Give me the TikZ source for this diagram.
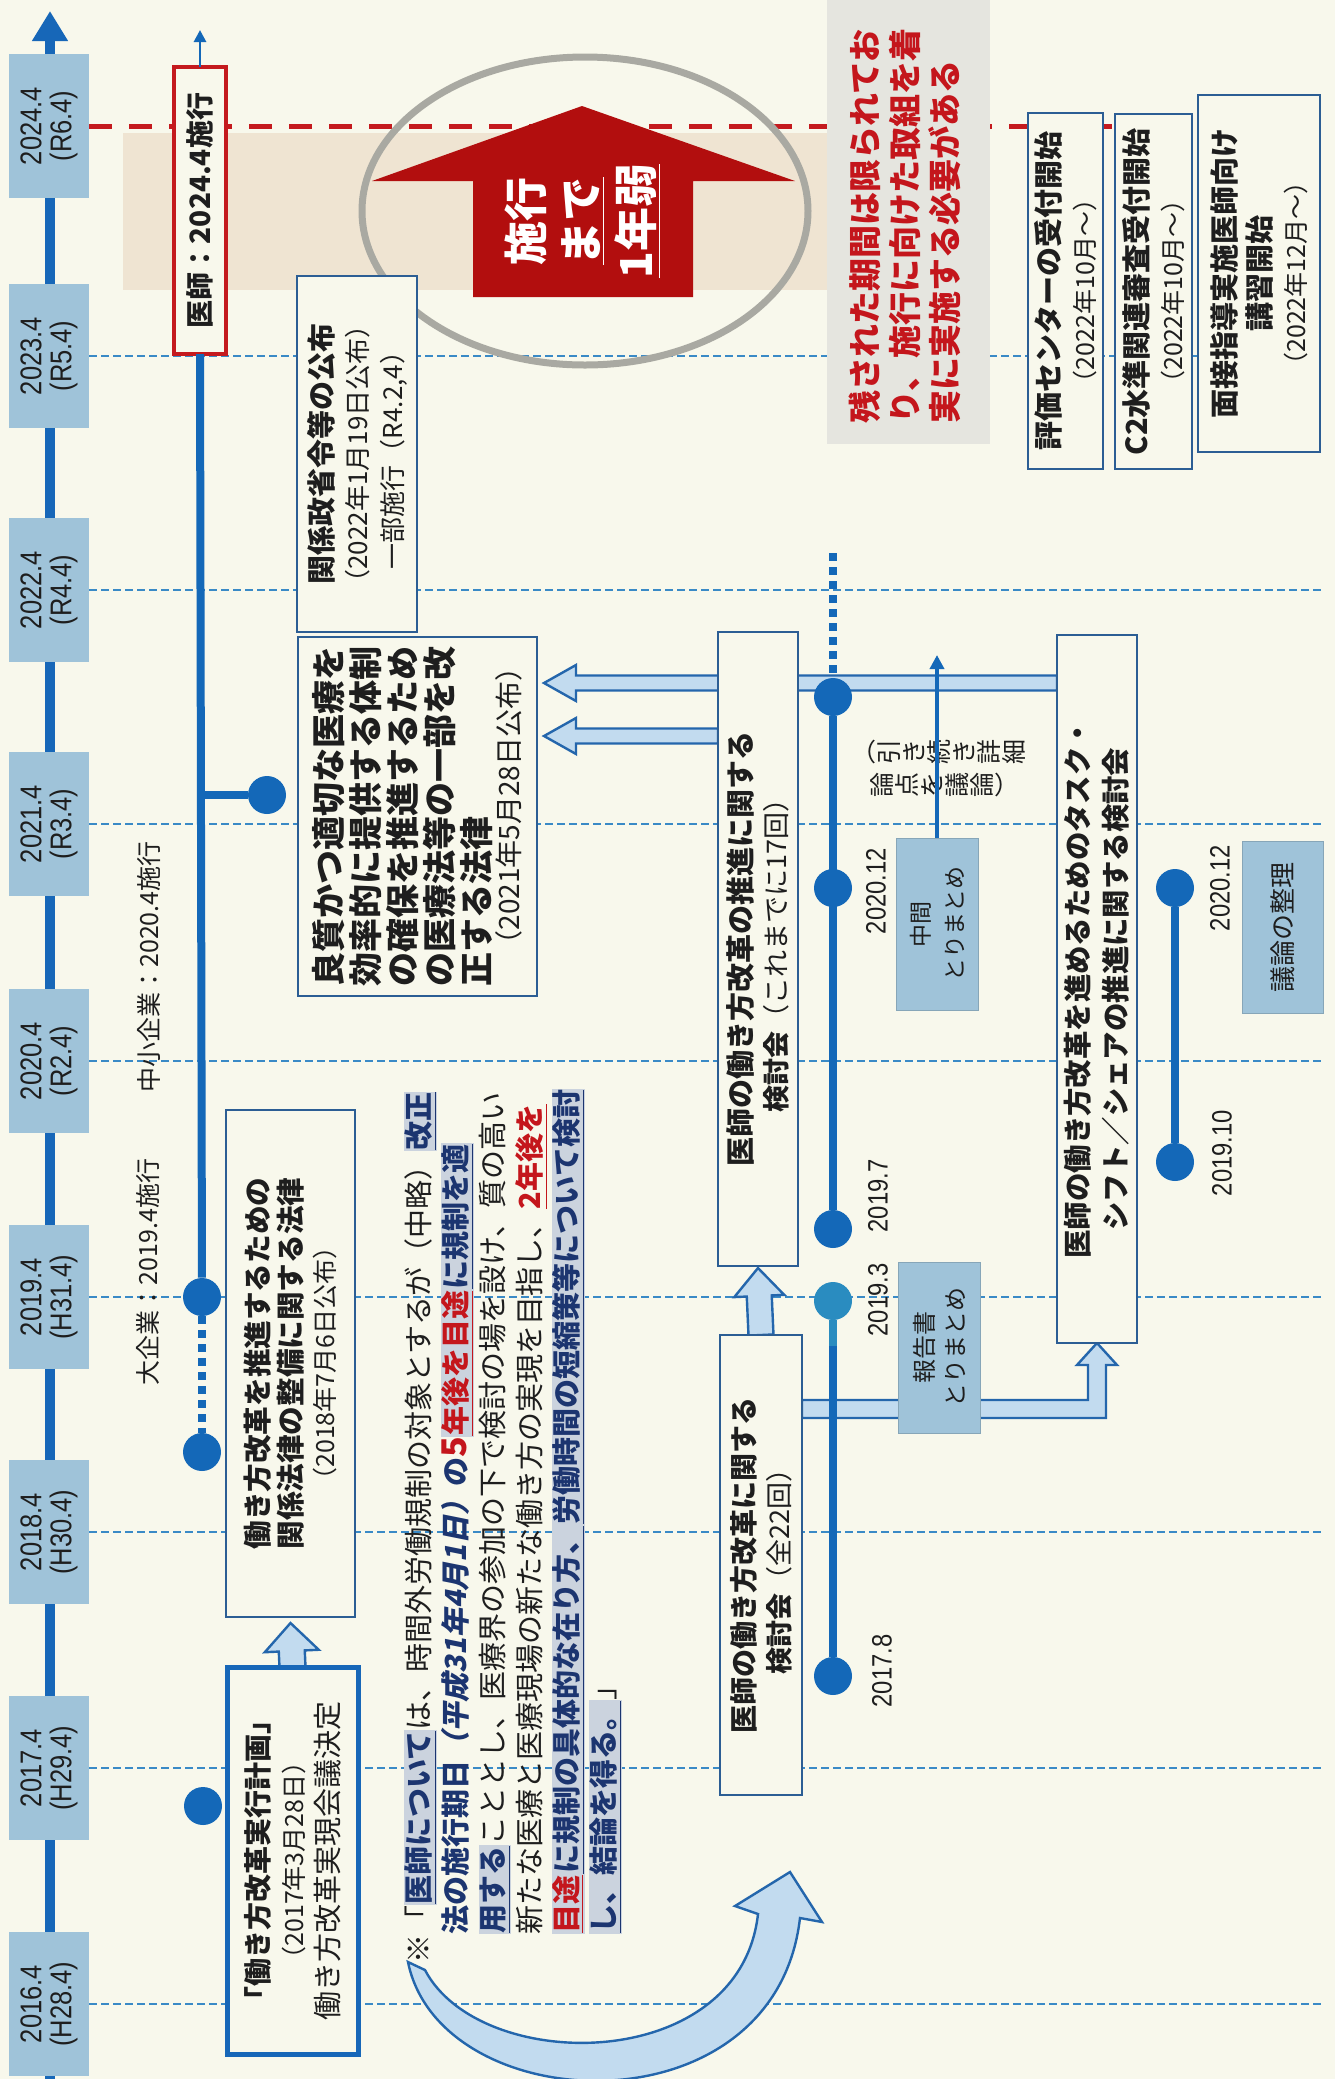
\documentclass[tikz,border=0pt]{standalone}
\usepackage{fontspec}
\setmainfont{Noto Sans CJK JP}
\newfontfamily\jpsl[FakeSlant=0.2]{Noto Sans CJK JP}
\newfontfamily\nrw[FakeStretch=0.85]{Liberation Sans}
\XeTeXlinebreaklocale "ja"
\XeTeXlinebreakskip=0pt plus 2pt
\usetikzlibrary{calc,arrows.meta}
\pgfdeclarelayer{bgl}
\pgfdeclarelayer{arr}
\pgfsetlayers{bgl,arr,main}
\definecolor{bg}{HTML}{F8F8EC}
\definecolor{yearblue}{HTML}{9FC3D9}
\definecolor{axisblue}{HTML}{1767B8}
\definecolor{dotblue}{HTML}{1468B8}
\definecolor{lightdot}{HTML}{2A8CC0}
\definecolor{boxblue}{HTML}{2C5E94}
\definecolor{lineblue}{HTML}{3A8AC6}
\definecolor{redline}{HTML}{C41A1E}
\definecolor{redarrow}{HTML}{B20E0E}
\definecolor{redtext}{HTML}{C4161C}
\definecolor{greybox}{HTML}{E5E5DF}
\definecolor{bandc}{HTML}{EFE4D2}
\definecolor{ellgrey}{HTML}{A9A9A2}
\definecolor{arrfill}{HTML}{C2DBEF}
\definecolor{arrline}{HTML}{2466AC}
\definecolor{txt}{HTML}{1E1E1E}
\definecolor{navy}{HTML}{1C3570}
\definecolor{hlgray}{HTML}{CBD3DE}
\newcommand\fs[2]{\fontsize{#1}{#2}\selectfont}
\newcommand\hlb[1]{{\setlength\fboxsep{0.4pt}\colorbox{hlgray}{\bfseries\color{navy}\underline{#1}}}}
\newcommand\hlr[1]{{\setlength\fboxsep{0.4pt}\colorbox{hlgray}{\bfseries\color{redtext}\underline{#1}}}}
\newcommand\rdb[1]{{\bfseries\color{redtext}\underline{#1}}}
\newcommand\nvb[1]{{\bfseries\color{navy}#1}}
\tikzset{
  rot/.style={rotate=90, inner sep=0pt, outer sep=0pt},
  yearbox/.style={rot, fill=yearblue, minimum width=72pt, minimum height=40pt, align=center, font=\nrw\fs{15}{15}, text=txt},
  wbox/.style={rot, draw=boxblue, line width=1.2pt, fill=bg, align=center, text=txt},
  bluebox/.style={rot, fill=yearblue, draw=yearblue!85!black, line width=0.4pt, align=center, text=txt},
  yearline/.style={lineblue, line width=0.9pt, dash pattern=on 4pt off 2pt},
  tl/.style={dotblue, line width=4pt},
  dotl/.style={dotblue, line width=4pt, dash pattern=on 4pt off 3pt},
  dot/.style={circle, fill=dotblue, inner sep=0pt, minimum size=19pt},
  datelbl/.style={rot, font=\nrw\fs{14}{14}, text=txt},
  hollow/.style={fill=arrfill, draw=arrline, line width=1.2pt, line join=miter},
  blockarrow/.style args={#1/#2/#3}{to path={let \p1=(\tikztostart), \p2=(\tikztotarget), \n1={atan2(\y2-\y1,\x2-\x1)}, \n2={veclen(\x2-\x1,\y2-\y1)} in
      ($(\p1)+(\n1+90:#1)$) -- ($(\p1)+(\n1:\n2-#3)+(\n1+90:#1)$) -- ($(\p1)+(\n1:\n2-#3)+(\n1+90:#2)$) -- (\p2) -- ($(\p1)+(\n1:\n2-#3)+(\n1-90:#2)$) -- ($(\p1)+(\n1:\n2-#3)+(\n1-90:#1)$) -- ($(\p1)+(\n1-90:#1)$) -- cycle}},
}
\begin{document}
\begin{tikzpicture}[x=0.5pt,y=-0.5pt]
\useasboundingbox (0,0) rectangle (1335,2079);
\clip (0,0) rectangle (1335,2079);
\begin{pgfonlayer}{bgl}
  \fill[bg] (0,0) rectangle (1335,2079);
  \fill[bandc] (123,133) rectangle (827,290);
\end{pgfonlayer}

% axis
\coordinate (axbot) at (50,2079);
\coordinate (axtop) at (50,11);
\draw[axisblue, line width=5pt, -{Triangle[width=17pt,length=15pt]}] (axbot) -- (axtop);

% year boxes
\foreach \yy/\ya/\yb/\nm in {126/2024.4/R6.4/yA, 356/2023.4/R5.4/yB, 590/2022.4/R4.4/yC, 824/2021.4/R3.4/yD, 1061/2020.4/R2.4/yE, 1297/2019.4/H31.4/yF, 1532/2018.4/H30.4/yG, 1768/2017.4/H29.4/yH, 2004/2016.4/H28.4/yI}
  \node[yearbox] (\nm) at (49,\yy) {\ya\\(\yb)};

\begin{pgfonlayer}{bgl}
  \foreach \nm in {yB,yC,yD,yE,yF,yG,yH,yI}
    \draw[yearline] (\nm.south) -- ++(1234,0);
  \draw[redline, line width=2.5pt, dash pattern=on 11.5pt off 8.5pt] (yA.south) -- ++(1026,0);
\end{pgfonlayer}

% ellipse and red arrow
\draw[ellgrey, line width=3.5pt] (585,211) ellipse [x radius=223, y radius=154];
\fill[redarrow] (582,106) -- (795,181) -- (693,181) -- (693,297) -- (473,297) -- (473,181) -- (372,181) -- cycle;
\node[rot, align=center, font=\bfseries\fs{22}{27.5}, text=white] (sekou) at (583,221) {施行\\\underline{まで}\\\underline{1年弱}};

% grey box
\fill[greybox] (827,0) rectangle (990,444);
\node[rot, align=left, font=\bfseries\fs{16.5}{20}, text=redtext] (gtxt) at (905,226) {残された期間は限られてお\\り、施行に向けた取組を着\\実に実施する必要がある};

% right boxes
\node[wbox, minimum width=178pt, minimum height=37.5pt, font=\fs{12.5}{17.5}] (bA) at (1065.5,291) {{\bfseries\fs{14.5}{17.5}評価センターの受付開始}\\（2022年10月～）};
\node[wbox, minimum width=177.5pt, minimum height=38.5pt, font=\fs{12.5}{17.5}] (bB) at (1153.5,291.5) {{\bfseries\fs{14.5}{17.5}C2水準関連審査受付開始}\\（2022年10月～）};
\node[wbox, minimum width=178.5pt, minimum height=61pt, font=\fs{12.5}{17.5}] (bC) at (1259,273.5) {{\bfseries\fs{14.5}{17.5}面接指導実施医師向け}\\{\bfseries\fs{14.5}{17.5}講習開始}\\（2022年12月～）};

% red box
\node[rot, draw=redline, line width=2pt, fill=bg, minimum width=143.5pt, minimum height=26pt, font=\bfseries\fs{14}{14}, text=txt] (rb) at (200,210.5) {医師：2024.4施行};
\coordinate (rbtip) at (200,30);
\draw[dotblue, line width=1.4pt, -{Triangle[length=6pt,width=6pt]}] (rb.east) -- (rbtip);

% left boxes
\node[wbox, minimum width=178pt, minimum height=60pt, font=\fs{13}{17.5}] (kankei) at (357,454) {{\bfseries\fs{14.5}{17.5}関係政省令等の公布}\\（2022年1月19日公布）\\一部施行（R4.2,4）};
\node[wbox, minimum width=179.5pt, minimum height=119.5pt, align=left, font=\bfseries\fs{17}{18.5}] (ryo) at (417.5,816.5) {良質かつ適切な医療を\\効率的に提供する体制\\の確保を推進するため\\の医療法等の一部を改\\正する法律\\[-3.5pt]{\mdseries\fs{14}{15}　（2021年5月28日公布）}};
\node[wbox, minimum width=253.5pt, minimum height=64.5pt, font=\fs{12.5}{16.5}] (kr) at (290.5,1363.5) {{\bfseries\fs{14.3}{16.5}働き方改革を推進するための}\\{\bfseries\fs{14.3}{16.5}関係法律の整備に関する法律}\\（2018年7月6日公布）};
\node[wbox, draw=axisblue, line width=2.5pt, minimum width=193.5pt, minimum height=65.5pt, font=\fs{14.5}{17.5}] (jk) at (292.5,1860.5) {{\bfseries\fs{14}{17.5}「働き方改革実行計画」}\\{\fs{12.5}{17.5}（2017年3月28日）}\\働き方改革実現会議決定};

% company labels
\node[rot, font=\fs{12.5}{12.5}, text=txt] (daikigyo) at (148,1272) {大企業：2019.4施行};
\node[rot, font=\fs{12.5}{12.5}, text=txt] (chusho) at (149,967) {中小企業：2020.4施行};

% middle boxes
\node[wbox, minimum width=317pt, minimum height=40pt, font=\fs{13.5}{17.5}] (k17) at (758,949) {{\bfseries\fs{14.5}{17.5}医師の働き方改革の推進に関する}\\{\bfseries 検討会}（これまでに17回）};
\node[wbox, minimum width=230pt, minimum height=41pt, font=\fs{13.5}{17.5}] (k22) at (761,1565) {{\bfseries\fs{14}{17.5}医師の働き方改革に関する}\\{\bfseries 検討会}（全22回）};
\node[wbox, minimum width=354pt, minimum height=40pt, font=\bfseries\fs{14.2}{19}] (task) at (1097,989) {医師の働き方改革を進めるためのタスク・\\シフト／シェアの推進に関する検討会};

\node[bluebox, minimum width=86pt, minimum height=41pt, font=\fs{11.5}{17}] (chukan) at (937,924) {中間\\とりまとめ};
\node[bluebox, minimum width=85.5pt, minimum height=41pt, font=\fs{12}{15.5}] (hokoku) at (939,1347.5) {報告書\\とりまとめ};
\node[bluebox, minimum width=86pt, minimum height=40.5pt, font=\fs{13}{13}] (giron) at (1282.5,927) {議論の整理};

% block arrows
\coordinate (c683) at (0,683);
\coordinate (c736) at (0,736);
\coordinate (c1409) at (0,1409);
\coordinate (a1s) at (task.north |- c683);
\coordinate (a1e) at ($(ryo.south |- c683)+(7,0)$);
\coordinate (a2s) at (k17.north |- c736);
\coordinate (a2e) at ($(ryo.south |- c736)+(7,0)$);
\coordinate (ea) at (k22.south |- c1409);
\begin{pgfonlayer}{arr}
  \draw[hollow, blockarrow=3.75pt/9pt/16pt] (a1s) to (a1e);
  \draw[hollow, blockarrow=3.75pt/9pt/16pt] (a2s) to (a2e);
  \draw[hollow, blockarrow=6.25pt/12.5pt/14pt] (k22.east) to ($(k17.west)+(0,2)$);
  \draw[hollow, blockarrow=6.5pt/13.5pt/14pt] (jk.east) to ($(kr.west)+(0,6)$);
  \draw[hollow] let \p1=(ea), \p2=(task.west) in (\x1,\y1+4.5pt) -- (\x2-4.5pt,\y1+4.5pt) -- (\x2-4.5pt,\y2-11pt) -- (\x2-10pt,\y2-11pt) -- (\x2,\y2) -- (\x2+10pt,\y2-11pt) -- (\x2+4.5pt,\y2-11pt) -- (\x2+4.5pt,\y1-4.5pt) -- (\x1,\y1-4.5pt) -- cycle;
\end{pgfonlayer}

% discussion note
\node[rot, anchor=north, align=center, font=\fs{12.5}{12.5}, text=txt] (ronA) at (869,752) {︵\\引\\き\\続\\き\\詳\\細};
\node[rot, anchor=north, align=center, font=\fs{12.5}{12.5}, text=txt] (ronB) at (871,785) {論\\点\\を\\議\\論\\︶};
\coordinate (rontip) at (935,655);
\draw[dotblue, line width=2pt, -{Triangle[length=7pt,width=7pt]}] (chukan.east) -- (chukan.east |- rontip);

% dots
\node[dot] (dA) at (202,1297) {};
\node[dot] (dB) at (267,795) {};
\node[dot] (dC) at (202,1452) {};
\node[dot] (dD) at (203,1806) {};
\node[dot] (m1) at (833,697) {};
\node[dot] (m2) at (833,888) {};
\node[dot] (m3) at (833,1229) {};
\node[dot, fill=lightdot] (m4) at (833,1301) {};
\node[dot] (m5) at (833,1676) {};
\node[dot] (t1) at (1175,888) {};
\node[dot] (t2) at (1175,1162) {};
\coordinate (m1top) at (833,553);

\draw[tl] (rb.west) -- (dA);
\draw[tl] (dB) -- (dB -| rb.west);
\draw[dotl] (dA) -- (dC);
\draw[dotl] (m1top) -- (m1);
\draw[tl] (m1) -- (m3);
\draw[tl] (m4) -- (m5);
\draw[tl, lightdot] (m4) -- ($(m4)+(0,45)$);
\draw[tl] (t1) -- (t2);

% date labels
\node[datelbl] (l1) at (876,891) {2020.12};
\node[datelbl] (l2) at (878,1196) {2019.7};
\node[datelbl] (l3) at (878,1300) {2019.3};
\node[datelbl] (l4) at (882,1671) {2017.8};
\node[datelbl] (l5) at (1220,888) {2020.12};
\node[datelbl] (l6) at (1222,1153) {2019.10};

% note text
\node[rot, anchor=north west, align=left, font=\fs{14.5}{18.5}, text=txt] (note) at (404,1963) {%
\hbox to 439pt{※「\hlb{医師について}は、時間外労働規制の対象とするが（中略）\hlb{改正}}\\
\hbox to 439pt{\hspace*{1em}\nvb{法の施行期日}{\jpsl\bfseries\color{navy}（平成31年4月1日）}\nvb{の}{\bfseries\color{redtext}\fs{17}{18.5}5}\hlr{年後を目途}\hlb{に規制を適}}\\
\hbox to 439pt{\hspace*{1em}\hlb{用する}こととし、医療界の参加の下で検討の場を設け、質の高い}\\
\hbox to 439pt{\hspace*{1em}新たな医療と医療現場の新たな働き方の実現を目指し、\rdb{2年後を}}\\
\hbox to 439pt{\hspace*{1em}\hlr{目途}\hlb{に規制の具体的な在り方、}\hlb{労働時間の短縮策等について検討}\hfil}\\
\hspace*{1em}\hlb{し、結論を得る。}」};

% curved arrow
\draw[hollow] (408,1962) .. controls (440,2120) and (775,2135) .. (800,1918) -- (822,1922) -- (790,1872) -- (735,1906) -- (758,1914) .. controls (740,2075) and (480,2075) .. (425,1970) -- cycle;
\end{tikzpicture}
\end{document}
